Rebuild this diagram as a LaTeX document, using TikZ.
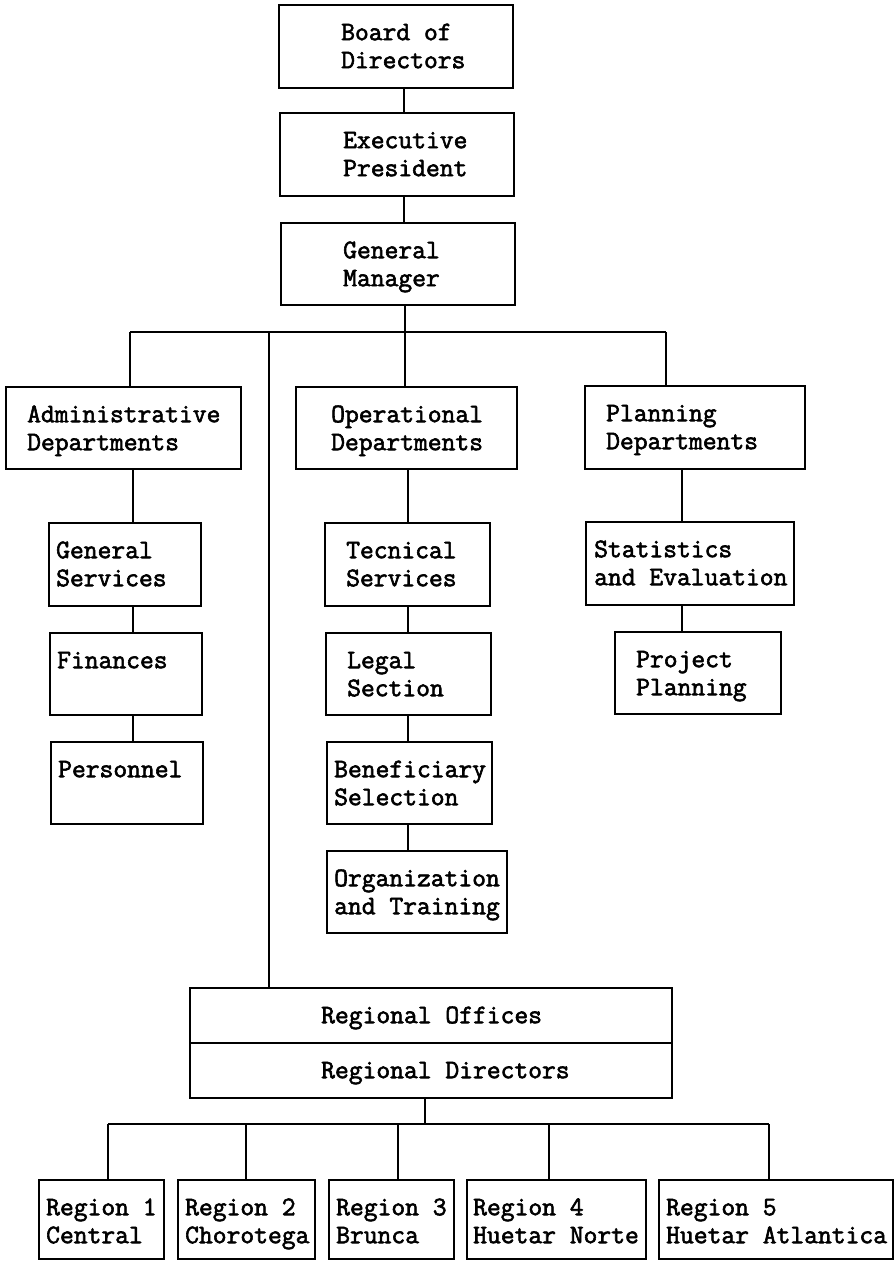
\documentclass[tikz,border=0pt]{standalone}
\usepackage{fontspec}
\setmonofont{Latin Modern Mono}[AutoFakeBold=2.2]
\tikzset{
  box/.style={draw, line width=1.7pt, rectangle, inner sep=0pt, outer sep=0pt, anchor=north west},
  lbl/.style={anchor=north west, inner sep=0pt, align=left, font=\fontsize{26.8}{28}\selectfont\ttfamily\bfseries},
  conn/.style={line width=1.4pt}
}
\newcommand\obox[7]{%
  \node[box, minimum width={(#4-#2)*1pt}, minimum height={(#5-#3)*1pt}] (#1) at (#2,#3) {};
  \node[lbl] (#1-t) at (#6,#3+15.4) {\strut #7};
}
\begin{document}
\begin{tikzpicture}[x=1pt,y=-1pt]
\useasboundingbox (0,0) rectangle (896,1261);
\obox{bod}{279}{5}{513}{88}{341}{Board of\\Directors}
\obox{ep}{280}{113}{514}{196}{343}{Executive\\President}
\obox{gm}{281}{223}{515}{305}{343}{General\\Manager}
\obox{ad}{6}{387}{241}{469}{27}{Administrative\\Departments}
\obox{od}{296}{387}{517}{469}{331}{Operational\\Departments}
\obox{pd}{585}{386}{805}{469}{606}{Planning\\Departments}
\obox{gs}{49}{523}{201}{606}{56}{General\\Services}
\obox{fi}{50}{633}{202}{715}{57}{Finances}
\obox{pe}{51}{742}{203}{824}{58}{Personnel}
\obox{ts}{325}{523}{490}{606}{346}{Tecnical\\Services}
\obox{ls}{326}{633}{491}{715}{347}{Legal\\Section}
\obox{bs}{327}{742}{492}{824}{334}{Beneficiary\\Selection}
\obox{ot}{327}{851}{507}{933}{334}{Organization\\and Training}
\obox{se}{586}{522}{794}{605}{594}{Statistics\\and Evaluation}
\obox{pp}{615}{632}{781}{714}{636}{Project\\Planning}
\obox{ro}{190}{988}{672}{1043}{321}{Regional Offices}
\obox{rd}{190}{1043}{672}{1098}{321}{Regional Directors}
\obox{r1}{39}{1180}{164}{1259}{46}{Region 1\\Central}
\obox{r2}{178}{1180}{315}{1259}{185}{Region 2\\Chorotega}
\obox{r3}{329}{1180}{454}{1259}{336}{Region 3\\Brunca}
\obox{r4}{467}{1180}{646}{1259}{473}{Region 4\\Huetar Norte}
\obox{r5}{659}{1180}{893}{1259}{666}{Region 5\\Huetar Atlantica}
% column coordinates
\coordinate (cT) at (404,0);
\coordinate (cA) at (133,0);
\coordinate (cO) at (408,0);
\coordinate (cP) at (682,0);
\coordinate (cR) at (425,0);
\coordinate (b1) at (130,332);
\coordinate (b2) at (269,332);
\coordinate (b3) at (405,332);
\coordinate (b4) at (666,332);
\coordinate (q1) at (108,1124);
\coordinate (q2) at (246,1124);
\coordinate (q3) at (398,1124);
\coordinate (q4) at (549,1124);
\coordinate (q5) at (769,1124);
% top chain
\draw[conn] (bod.south -| cT) -- (ep.north -| cT);
\draw[conn] (ep.south -| cT) -- (gm.north -| cT);
\draw[conn] (gm.south -| b3) -- (b3);
\draw[conn] (b1) -- (b4);
\draw[conn] (b1) -- (ad.north -| b1);
\draw[conn] (b2) -- (ro.north -| b2);
\draw[conn] (b3) -- (od.north -| b3);
\draw[conn] (b4) -- (pd.north -| b4);
% admin chain
\draw[conn] (ad.south -| cA) -- (gs.north -| cA);
\draw[conn] (gs.south -| cA) -- (fi.north -| cA);
\draw[conn] (fi.south -| cA) -- (pe.north -| cA);
% operational chain
\draw[conn] (od.south -| cO) -- (ts.north -| cO);
\draw[conn] (ts.south -| cO) -- (ls.north -| cO);
\draw[conn] (ls.south -| cO) -- (bs.north -| cO);
\draw[conn] (bs.south -| cO) -- (ot.north -| cO);
% planning chain
\draw[conn] (pd.south -| cP) -- (se.north -| cP);
\draw[conn] (se.south -| cP) -- (pp.north -| cP);
% regions
\draw[conn] (rd.south -| cR) -- (q1 -| cR);
\draw[conn] (q1) -- (q5);
\draw[conn] (q1) -- (r1.north -| q1);
\draw[conn] (q2) -- (r2.north -| q2);
\draw[conn] (q3) -- (r3.north -| q3);
\draw[conn] (q4) -- (r4.north -| q4);
\draw[conn] (q5) -- (r5.north -| q5);
\end{tikzpicture}
\end{document}
